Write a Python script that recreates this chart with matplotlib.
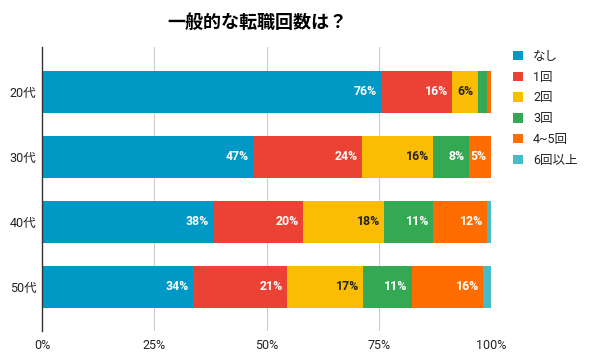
import matplotlib
matplotlib.use("Agg")
import matplotlib.pyplot as plt
import numpy as np

categories = ["20代", "30代", "40代", "50代"]
series_names = ["なし", "1回", "2回", "3回", "4~5回", "6回以上"]
nashi   = [75.5, 47.0, 38.1, 33.6]
once    = [15.8, 24.3, 20.0, 21.0]
twice   = [5.8, 15.8, 18.1, 16.9]
three   = [1.9, 8.0, 10.9, 10.8]
four5   = [0.9, 4.9, 12.1, 15.9]
six_up  = [0.1, 0.0, 0.8, 1.8]
xticks = [0, 25, 50, 75, 100]
xticklabels = ["0%", "25%", "50%", "75%", "100%"]
title = "一般的な転職回数は？"

colors = ["#0099C6", "#EA4335", "#FBBC04", "#34A853", "#FF6D01", "#46BDC6"]
label_colors = ["white", "white", "#222222", "white", "white", "white"]
FAM = ["Roboto", "Noto Sans CJK JP", "DejaVu Sans"]
plt.rcParams['font.family'] = FAM

W, H = 591, 358
fig = plt.figure(figsize=(W / 100, H / 100), dpi=100)
ax = fig.add_axes([42 / W, 1 - 331 / H, (491 - 42) / W, (331 - 47) / H])

series = [nashi, once, twice, three, four5, six_up]
y = np.arange(len(categories))
left = np.zeros(len(categories))
for s, name, c, lc in zip(series, series_names, colors, label_colors):
    vals = np.array(s, dtype=float)
    ax.barh(y, vals, left=left, height=0.646, color=c, label=name, zorder=3)
    for yi, (l, v) in enumerate(zip(left, vals)):
        if v >= 4:
            ax.text(l + v - 0.9, yi, f"{int(round(v))}%", ha="right", va="center",
                    color=lc, fontsize=8.8, fontweight="bold", zorder=4)
    left += vals

ax.set_xlim(0, 100)
ax.set_ylim(3.677, -0.692)
ax.set_yticks(y)
ax.set_yticklabels(categories, fontsize=9, color="#222222")
ax.set_xticks(xticks)
ax.set_xticklabels(xticklabels, fontsize=9, color="#222222")
ax.tick_params(axis="both", length=0, pad=6)
ax.tick_params(axis="y", pad=4)
for x in xticks[1:]:
    ax.axvline(x, color="#cccccc", lw=0.8, zorder=1)
for sp in ["top", "right", "bottom"]:
    ax.spines[sp].set_visible(False)
ax.spines["left"].set_color("#333333")
ax.spines["left"].set_linewidth(1.0)
ax.spines["left"].set_zorder(5)

fig.text(257 / W, 1 - 23 / H, title, ha="center", va="center",
         fontsize=13, fontweight="bold", color="#000000")

leg = ax.legend(loc="upper left", bbox_to_anchor=(508 / W, 1 - 45 / H),
                bbox_transform=fig.transFigure, frameon=False, fontsize=9,
                handlelength=0.8, handleheight=0.8, handletextpad=0.8,
                labelspacing=0.62, borderaxespad=0)
for t in leg.get_texts():
    t.set_color("#222222")

fig.savefig("out.png", dpi=100)
